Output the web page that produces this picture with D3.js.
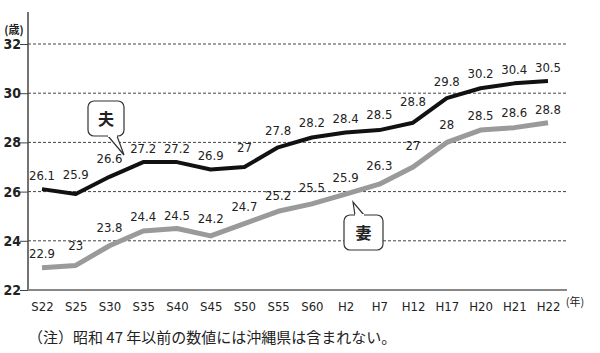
<!DOCTYPE html>
<html>
<head>
<meta charset="utf-8">
<script src="https://cdn.jsdelivr.net/npm/d3@7"></script>
<style>
  body { margin: 0; background: #fff; }
  text { fill: #222; }
</style>
</head>
<body>
<script>
// data: average age at first marriage
var years = ["S22","S25","S30","S35","S40","S45","S50","S55","S60","H2","H7","H12","H17","H20","H21","H22"];
var husband = [26.1,25.9,26.6,27.2,27.2,26.9,27,27.8,28.2,28.4,28.5,28.8,29.8,30.2,30.4,30.5];
var wife = [22.9,23,23.8,24.4,24.5,24.2,24.7,25.2,25.5,25.9,26.3,27,28,28.5,28.6,28.8];
var yTicks = [22,24,26,28,30,32];

var width = 600, height = 353;
var numFont = "'Liberation Sans Narrow','DejaVu Sans Condensed',sans-serif";
var jpFont = "'Noto Sans CJK JP',sans-serif";

var svg = d3.select("body").append("svg")
  .attr("width", width)
  .attr("height", height);

var x = d3.scalePoint().domain(years).range([42, 548]);
var y = d3.scaleLinear().domain([22, 32]).range([290, 44]);

// grid lines
svg.append("g")
  .selectAll("line")
  .data(yTicks.filter(function(d) { return d > 22; }))
  .enter().append("line")
    .attr("x1", 28).attr("x2", 566)
    .attr("y1", function(d) { return y(d); })
    .attr("y2", function(d) { return y(d); })
    .attr("stroke", "#444")
    .attr("stroke-width", 1)
    .attr("stroke-dasharray", "3,2");

// y axis
var yAxis = svg.append("g")
  .attr("transform", "translate(28,0)")
  .call(d3.axisLeft(y).tickValues(yTicks).tickSize(8).tickFormat(d3.format("d")));
yAxis.select(".domain").remove();
yAxis.selectAll(".tick line").attr("stroke", "#444");
yAxis.selectAll(".tick text")
  .attr("x", -7)
  .style("font-family", numFont)
  .style("font-size", "14px")
  .style("font-weight", "bold")
  .attr("fill", "#333");
svg.append("line")
  .attr("x1", 28).attr("x2", 28).attr("y1", 12).attr("y2", 291)
  .attr("stroke", "#444").attr("stroke-width", 1.5);

// x axis
var xAxis = svg.append("g")
  .attr("transform", "translate(0,290)")
  .call(d3.axisBottom(x).tickSize(0).tickPadding(12));
xAxis.select(".domain").remove();
xAxis.selectAll(".tick text")
  .style("font-family", numFont)
  .style("font-size", "13px")
  .attr("fill", "#333");
svg.append("line")
  .attr("x1", 28).attr("x2", 567).attr("y1", 290).attr("y2", 290)
  .attr("stroke", "#888").attr("stroke-width", 2);

svg.append("text")
  .attr("x", 575).attr("y", 306)
  .attr("text-anchor", "middle")
  .style("font-family", jpFont)
  .style("font-size", "11px")
  .text("(年)");
svg.append("text")
  .attr("x", 14).attr("y", 34)
  .attr("text-anchor", "middle")
  .style("font-family", jpFont)
  .style("font-size", "11px")
  .style("font-weight", "bold")
  .text("(歳)");

// lines
var line = d3.line()
  .x(function(d, i) { return x(years[i]); })
  .y(function(d) { return y(d); });

svg.append("path")
  .attr("d", line(wife))
  .attr("fill", "none")
  .attr("stroke", "#9a9a9a")
  .attr("stroke-width", 5)
  .attr("stroke-linejoin", "round");

svg.append("path")
  .attr("d", line(husband))
  .attr("fill", "none")
  .attr("stroke", "#111")
  .attr("stroke-width", 4)
  .attr("stroke-linejoin", "round");

// value labels, lifted a bit more where the line climbs to the right
function labels(values) {
  svg.append("g")
    .selectAll("text")
    .data(values)
    .enter().append("text")
      .attr("x", function(d, i) { return x(years[i]); })
      .attr("y", function(d, i) {
        var next = i < values.length - 1 ? values[i + 1] - d : 0;
        return y(d) - 9 - Math.max(0, next) * 8;
      })
      .attr("text-anchor", "middle")
      .style("font-family", numFont)
      .style("font-size", "13px")
      .text(function(d) { return d; });
}
labels(husband);
labels(wife);

// callouts
function callout(bx, by, bw, bh, tail, label) {
  var g = svg.append("g");
  g.append("rect")
    .attr("x", bx).attr("y", by).attr("width", bw).attr("height", bh)
    .attr("rx", 6)
    .attr("fill", "#fff").attr("stroke", "#333").attr("stroke-width", 1.2);
  g.append("path")
    .attr("d", d3.line()(tail))
    .attr("fill", "#fff").attr("stroke", "#333").attr("stroke-width", 1.2);
  // hide box border under the tail base
  g.append("line")
    .attr("x1", tail[0][0]).attr("y1", tail[0][1])
    .attr("x2", tail[2][0]).attr("y2", tail[2][1])
    .attr("stroke", "#fff").attr("stroke-width", 2);
  g.append("text")
    .attr("x", bx + bw / 2).attr("y", by + bh / 2 + 6)
    .attr("text-anchor", "middle")
    .style("font-family", jpFont)
    .style("font-size", "16px")
    .style("font-weight", "bold")
    .text(label);
}
callout(88, 101, 36, 35, [[108, 136], [124, 155], [117, 136]], "夫");
callout(344, 215, 39, 35, [[355, 215], [353, 202], [364, 215]], "妻");

// note
svg.append("text")
  .attr("x", 28).attr("y", 343)
  .style("font-family", jpFont)
  .style("font-size", "15px")
  .attr("fill", "#333")
  .text("（注）昭和 47 年以前の数値には沖縄県は含まれない。");
</script>
</body>
</html>
